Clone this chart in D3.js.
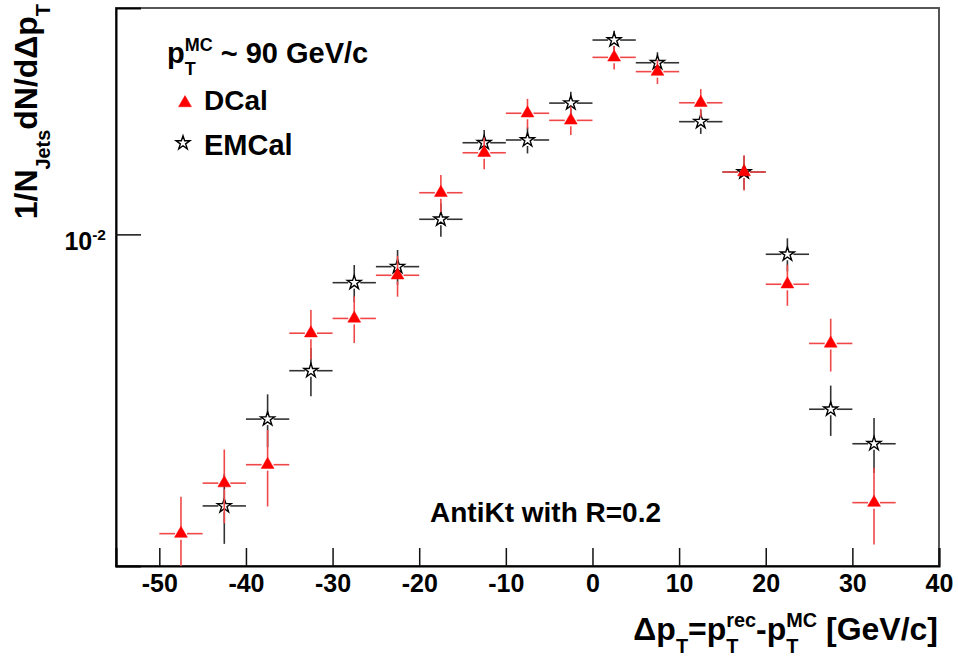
<!DOCTYPE html>
<html>
<head>
<meta charset="utf-8">
<script src="https://cdn.jsdelivr.net/npm/d3@7"></script>
<style>
  body { margin: 0; background: #fff; }
  text { font-family: "Liberation Sans", Arial, Helvetica, sans-serif; font-weight: bold; fill: #000; white-space: pre; }
</style>
</head>
<body>
<svg id="chart" width="958" height="657"></svg>
<script>
// bin centres in Delta pT (GeV/c), bins are 5 GeV/c wide
var binHalf = 2.5;
var dcalX = [-47.5, -42.5, -37.5, -32.5, -27.5, -22.5, -17.5, -12.5, -7.5, -2.5, 2.5, 7.5, 12.5, 17.5, 22.5, 27.5, 32.5];
var dcalY = [2.34e-3, 2.99e-3, 3.27e-3, 6.19e-3, 6.65e-3, 8.20e-3, 1.224e-2, 1.486e-2, 1.80e-2, 1.739e-2,
             2.361e-2, 2.203e-2, 1.894e-2, 1.353e-2, 7.85e-3, 5.89e-3, 2.72e-3];
var dcalErr = [0.46e-3, 0.53e-3, 0.60e-3, 0.74e-3, 0.75e-3, 0.81e-3, 1.10e-3, 1.14e-3, 1.30e-3, 1.20e-3,
               1.35e-3, 1.28e-3, 1.30e-3, 1.16e-3, 0.78e-3, 0.75e-3, 0.50e-3];

var emcalX = [-42.5, -37.5, -32.5, -27.5, -22.5, -17.5, -12.5, -7.5, -2.5, 2.5, 7.5, 12.5, 17.5, 22.5, 27.5, 32.5];
var emcalY = [2.677e-3, 4.08e-3, 5.16e-3, 7.91e-3, 8.55e-3, 1.076e-2, 1.56e-2, 1.581e-2, 1.891e-2,
              2.568e-2, 2.30e-2, 1.728e-2, 1.353e-2, 9.08e-3, 4.28e-3, 3.62e-3];
var emcalErr = [0.45e-3, 0.52e-3, 0.60e-3, 0.71e-3, 0.72e-3, 0.87e-3, 0.99e-3, 1.00e-3, 1.06e-3,
                1.18e-3, 1.20e-3, 1.00e-3, 1.10e-3, 0.73e-3, 0.52e-3, 0.48e-3];

var xMajor = [-50, -40, -30, -20, -10, 0, 10, 20, 30, 40];
var xLabels = ["-50", "-40", "-30", "-20", "-10", "0", "10", "20", "30", "40"];
var xMinor = d3.range(-54, 41, 2).filter(function(v) { return v % 10 != 0; });
var yMajor = [0.01];
var yMinor = [0.002, 0.003, 0.004, 0.005, 0.006, 0.007, 0.008, 0.009, 0.02, 0.03];

var svg = d3.select("#chart");
var fLeft = 116, fRight = 939, fTop = 8, fBottom = 566;

var x = d3.scaleLinear().domain([-55, 40]).range([fLeft, fRight]);
var y = d3.scaleLog().domain([0.002, 0.03]).range([fBottom, fTop]);

// text with sub/superscripts, ROOT style (sup stacked over a preceding sub)
function rich(parent, px, py, parts, size, anchor) {
    var g = parent.append("g");
    var cx = 0, lastSub = null;
    parts.forEach(function(p) {
        var t = p[0], m = p[1] || 0;
        var fs = m ? size * 0.62 : size;
        var dy = m == 1 ? size * 0.40 : (m == 2 ? -size * 0.42 : 0);
        var sx = cx;
        if (m == 2 && lastSub) sx = lastSub.x;
        var el = g.append("text").attr("x", sx).attr("y", dy)
            .style("font-size", fs + "px").text(t);
        var w = el.node().getComputedTextLength();
        if (m == 1) { lastSub = {x: sx, w: w}; cx = sx + w; }
        else if (m == 2 && lastSub) { cx = lastSub.x + Math.max(lastSub.w, w); lastSub = null; }
        else { cx = sx + w; lastSub = null; }
    });
    var off = anchor == "end" ? -cx : 0;
    g.attr("transform", "translate(" + (px + off) + "," + py + ")");
    return g;
}

svg.append("clipPath").attr("id", "plotclip")
    .append("rect").attr("x", fLeft).attr("y", fTop)
    .attr("width", fRight - fLeft).attr("height", fBottom - fTop);

// frame
svg.append("rect")
    .attr("x", fLeft).attr("y", fTop)
    .attr("width", fRight - fLeft).attr("height", fBottom - fTop)
    .style("fill", "none").style("stroke", "#555").style("stroke-width", 2);

// x axis
var xg = svg.append("g").attr("transform", "translate(0," + fBottom + ")");
xg.call(d3.axisBottom(x).tickValues(xMinor).tickSize(-9).tickFormat(""));
xg.call(d3.axisBottom(x).tickValues(xMajor).tickSize(-18).tickPadding(7)
    .tickFormat(function(d, i) { return xLabels[i]; }));
xg.selectAll("text").style("font-size", "25px").attr("dy", "0.74em");
xg.selectAll(".domain").style("stroke", "#000").style("stroke-width", 2);
xg.selectAll(".tick line").style("stroke", "#111").style("stroke-width", 1.5);

// y axis
var yg = svg.append("g").attr("transform", "translate(" + fLeft + ",0)");
yg.call(d3.axisLeft(y).tickValues(yMinor).tickSize(-12).tickFormat(""));
yg.call(d3.axisLeft(y).tickValues(yMajor).tickSize(-25).tickFormat(""));
yg.selectAll(".domain").style("stroke", "#000").style("stroke-width", 2);
yg.selectAll(".tick line").style("stroke", "#111").style("stroke-width", 1.5);
yMajor.forEach(function(v) {
    var e = Math.round(Math.log10(v));
    rich(svg, 106, y(v) + 16, [["10"], [String(e), 2]], 25, "end");
});

// axis titles
rich(svg, 938, 640, [["\u0394p"], ["T", 1], ["=p"], ["T", 1], ["rec", 2], ["-p"], ["T", 1], ["MC", 2], [" [GeV/c]"]], 32, "end");
var yt = svg.append("g").attr("transform", "translate(37,4) rotate(-90)");
rich(yt, 0, 0, [["1/N"], ["Jets", 1], ["dN/d\u0394p"], ["T", 1]], 32, "end");

// markers
var tri = d3.symbol().type(d3.symbolTriangle).size(72);
var star = d3.symbol().type(d3.symbolStar).size(60);

function drawSeries(xs, ys, es, colour, barColour, marker, filled) {
    var g = svg.append("g").attr("clip-path", "url(#plotclip)");
    var gap = 6;
    xs.forEach(function(c, i) {
        var px = x(c), py = y(ys[i]);
        var segs = [
            [x(c - binHalf), py, px - gap, py],
            [px + gap, py, x(c + binHalf), py],
            [px, y(ys[i] + es[i]), px, py - gap],
            [px, py + gap, px, y(ys[i] - es[i])]
        ];
        segs.forEach(function(s) {
            g.append("line")
                .attr("x1", s[0]).attr("y1", s[1]).attr("x2", s[2]).attr("y2", s[3])
                .style("stroke", barColour).style("stroke-width", 1.6);
        });
    });
    g.selectAll("path.m").data(xs).enter().append("path")
        .attr("class", "m")
        .attr("d", marker)
        .attr("transform", function(c, i) { return "translate(" + x(c) + "," + y(ys[i]) + ")"; })
        .style("fill", filled ? colour : "none")
        .style("stroke", colour)
        .style("stroke-width", filled ? 0.5 : 1.4);
}

drawSeries(emcalX, emcalY, emcalErr, "#000", "#333", star, false);
drawSeries(dcalX, dcalY, dcalErr, "#ff0000", "#f04848", tri, true);

// legend
rich(svg, 167, 63, [["p"], ["T", 1], ["MC", 2], [" ~ 90 GeV/c"]], 29, "start");
svg.append("path").attr("d", tri).attr("transform", "translate(185,103)")
    .style("fill", "#ff0000").style("stroke", "#ff0000").style("stroke-width", 0.5);
rich(svg, 204, 110, [["DCal"]], 28, "start");
svg.append("path").attr("d", star).attr("transform", "translate(183,143)")
    .style("fill", "none").style("stroke", "#000").style("stroke-width", 1.4);
rich(svg, 204, 155, [["EMCal"]], 29, "start");

rich(svg, 430, 522, [["AntiKt with R=0.2"]], 28, "start");
</script>
</body>
</html>
